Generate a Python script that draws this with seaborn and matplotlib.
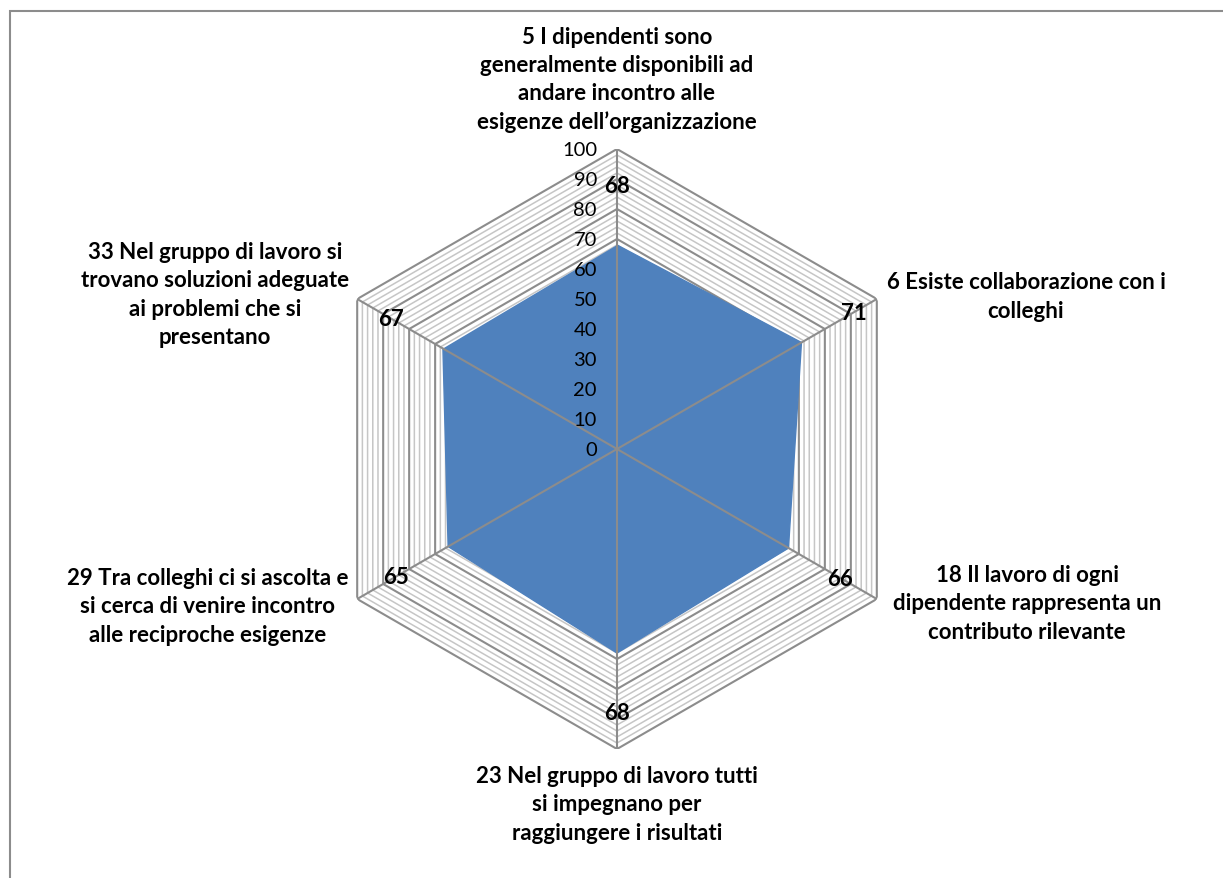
import numpy as np
import matplotlib
matplotlib.use("Agg")
import matplotlib.pyplot as plt
import matplotlib.transforms as mtransforms
from matplotlib.patches import Rectangle
import seaborn as sns

# Survey items (clockwise from the top) and their average scores
items = [
    "5 I dipendenti sono\ngeneralmente disponibili ad\nandare incontro alle\nesigenze dell\u2019organizzazione",
    "6 Esiste collaborazione con i\ncolleghi",
    "18 Il lavoro di ogni\ndipendente rappresenta un\ncontributo rilevante",
    "23 Nel gruppo di lavoro tutti\nsi impegnano per\nraggiungere i risultati",
    "29 Tra colleghi ci si ascolta e\nsi cerca di venire incontro\nalle reciproche esigenze",
    "33 Nel gruppo di lavoro si\ntrovano soluzioni adeguate\nai problemi che si\npresentano",
]
scores = [68, 71, 66, 68, 65, 67]
tick_values = [0, 10, 20, 30, 40, 50, 60, 70, 80, 90, 100]

sns.set_theme(style="white")
plt.rcParams["font.family"] = ["Lato", "DejaVu Sans"]

W, H = 1223, 879
fig = plt.figure(figsize=(W / 100, H / 100), dpi=100)

cx, cy, R = 617, 450, 300
ax = fig.add_axes([(cx - R) / W, (H - cy - R) / H, 2 * R / W, 2 * R / H],
                  projection="polar")
ax.set_theta_offset(np.pi / 2)
ax.set_theta_direction(-1)
ax.set_ylim(0, 100)
ax.grid(False)
ax.set_xticks([])
ax.set_yticks([])
ax.spines["polar"].set_visible(False)
ax.patch.set_alpha(0)

n = len(items)
theta = np.linspace(0, 2 * np.pi, n, endpoint=False)
theta_closed = np.append(theta, theta[0])

# Hexagonal grid: light lines every 2, darker every 10
for level in range(2, 101, 2):
    major = level % 10 == 0
    ax.plot(theta_closed, [level] * (n + 1),
            color="#8c8c8c" if major else "#c6c6c6",
            lw=1.5 if major else 1.1, zorder=1, solid_joinstyle="miter")

# Filled series
ax.fill(theta_closed, scores + [scores[0]], color="#4f81bd", zorder=2, lw=0)
sns.lineplot(x=theta_closed, y=scores + [scores[0]], ax=ax, sort=False,
             color="#4f81bd", lw=1, zorder=2)

# Spokes
for t in theta:
    ax.plot([t, t], [0, 100], color="#8c8c8c", lw=1.5, zorder=3)

# Radial scale along the top spoke
tick_tr = mtransforms.offset_copy(ax.transData, fig=fig, x=-20, y=0, units="dots")
for v in tick_values:
    ax.text(0, v, str(v), transform=tick_tr, ha="right", va="center",
            fontsize=14.5, color="#000000", zorder=5)

# Value labels
for t, s in zip(theta, scores):
    ax.text(t, s + 20, str(s), ha="center", va="center", fontsize=16,
            fontweight="bold", color="#000000", zorder=5)

ax.set_ylim(0, 100)

# Item labels
label_pos = [(617, 80), (1026, 297), (1027, 604), (617, 805), (208, 607), (215, 295)]
for txt, (x, y) in zip(items, label_pos):
    fig.text(x / W, 1 - y / H, txt, ha="center", va="center", fontsize=16,
             fontweight="bold", linespacing=1.42, color="#000000")

# Chart frame
fig.add_artist(Rectangle((9.5 / W, -0.5), 1.5, 0.5 + (H - 12) / H,
                         transform=fig.transFigure, fill=False,
                         edgecolor="#8c8c8c", lw=1.5))

fig.savefig("out.png", dpi=100, facecolor="white")
